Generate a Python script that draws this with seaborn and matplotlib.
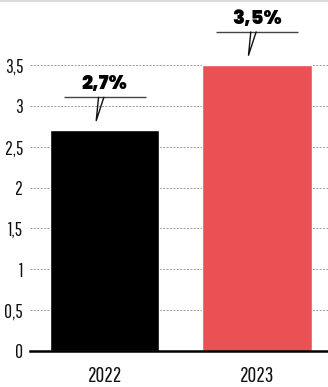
import matplotlib
matplotlib.use("Agg")
import matplotlib.pyplot as plt
from matplotlib.lines import Line2D
import seaborn as sns
import pandas as pd

years = ["2022", "2023"]
values = [2.7, 3.5]
bar_colors = ["#000000", "#EA5155"]
y_ticks = [0, 0.5, 1, 1.5, 2, 2.5, 3, 3.5]
y_tick_labels = ["0", "0,5", "1", "1,5", "2", "2,5", "3", "3,5"]

sns.set_theme(style="white")
plt.rcParams["font.family"] = ["Pathway Gothic One", "Barlow Condensed", "DejaVu Sans"]

df = pd.DataFrame({"year": years, "value": values})

fig = plt.figure(figsize=(3.28, 3.87), dpi=100)
ax = fig.add_axes([30 / 328, 36 / 387, 298 / 328, 351 / 387])

sns.barplot(data=df, x="year", y="value", hue="year", palette=bar_colors,
            saturation=1, width=0.72, legend=False, ax=ax, zorder=3)

ax.set_xlim(-0.49, 1.467)
ax.set_ylim(0, 4.296)
ax.set_xlabel("")
ax.set_ylabel("")

ax.set_yticks(y_ticks)
ax.set_yticklabels(y_tick_labels)
ax.yaxis.grid(True, linestyle=(0, (2, 1.5)), color="#9a9a9a", linewidth=0.7, zorder=0)
ax.xaxis.grid(False)
ax.tick_params(axis="y", length=0, pad=5, labelsize=14, colors="#111111")
ax.tick_params(axis="x", which="major", length=0, pad=11, labelsize=15.5, colors="#111111")
ax.set_xticks([0.5], minor=True)
ax.tick_params(axis="x", which="minor", direction="in", length=4, width=1.6, color="black")

for side in ["left", "right", "top"]:
    ax.spines[side].set_visible(False)
ax.spines["bottom"].set_color("black")
ax.spines["bottom"].set_linewidth(1.8)
ax.spines["bottom"].set_zorder(5)

# value callouts: bold label over a rule with a small pointer toward the bar
for i, v in enumerate(values):
    rule_y = v + 0.405
    tip_y = v + 0.12
    ax.plot([i - 0.27, i + 0.27], [rule_y, rule_y], color="#444444", lw=1.0,
            solid_capstyle="butt", zorder=4, clip_on=False)
    ax.plot([i - 0.04, i - 0.055, i - 0.005], [rule_y, tip_y, rule_y],
            color="#111111", lw=1.0, zorder=4, clip_on=False)
    label = f"{v:.1f}".replace(".", ",") + "%"
    ax.text(i, rule_y + 0.035, label, ha="center", va="bottom",
            fontsize=14, fontweight=900, family=["Poppins", "DejaVu Sans"],
            color="#000000", zorder=4)

# thin rule across the top of the figure
fig.add_artist(Line2D([0, 1], [0.997, 0.997], transform=fig.transFigure,
                      color="#dcdcdc", lw=1.5))

fig.savefig("out.png", dpi=100)
